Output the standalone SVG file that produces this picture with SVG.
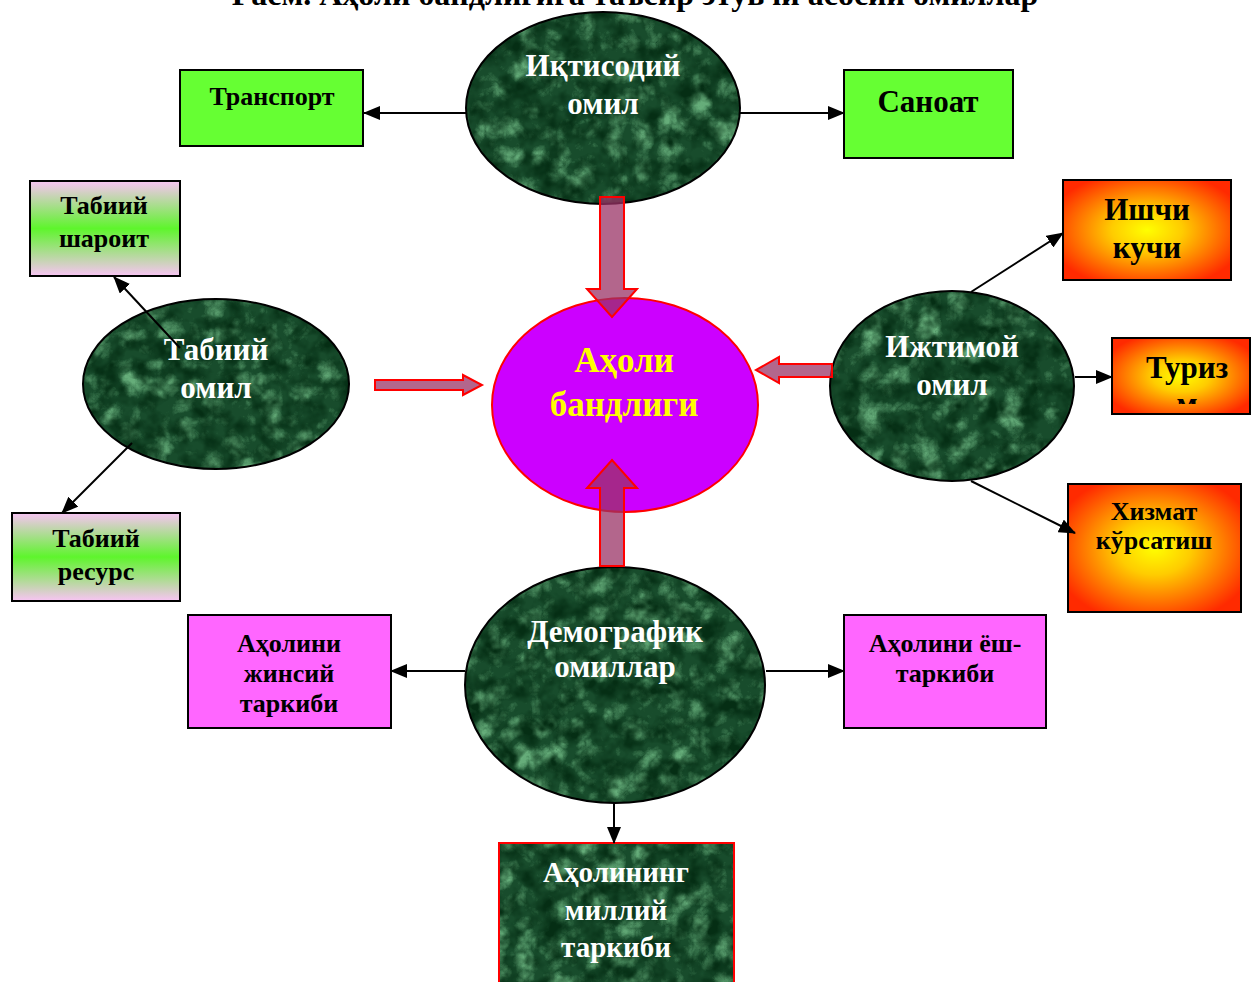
<svg xmlns="http://www.w3.org/2000/svg" width="1252" height="982" viewBox="0 0 1252 982">
<style>
  text { font-family: "Liberation Serif", "Times New Roman", serif; font-weight: bold; text-anchor: middle; }
  .title { font-size: 32px; fill: #000; }
  .ell-t { font-size: 31px; fill: #fff; }
  .box-t { font-size: 26px; fill: #000; }
  .big-t { font-size: 31px; fill: #000; }
  .ctr-t { font-size: 35px; fill: #ffff00; }
  .marble { fill: #184c2c; filter: url(#marble); }
  .edge { fill: none; stroke: #000; stroke-width: 2; }
  .box { stroke: #000; stroke-width: 2; }
  .gp { fill: url(#greenPink); }
  .org { fill: url(#orange); }
  .mag { fill: #ff66ff; }
  .lime { fill: #66ff33; }
  .conn { stroke: #000; stroke-width: 2; fill: none; marker-end: url(#ah); }
  .block { fill: #993366; fill-opacity: 0.75; stroke: #ff0000; stroke-width: 2; }
</style>
<defs>
  <marker id="ah" markerUnits="userSpaceOnUse" markerWidth="17" markerHeight="14" refX="16" refY="7" orient="auto">
    <path d="M0,0 L17,7 L0,14 z" fill="#000"/>
  </marker>
  <linearGradient id="greenPink" x1="0" y1="0" x2="0" y2="1">
    <stop offset="0" stop-color="#f8c4f4"/>
    <stop offset="0.5" stop-color="#5ef52c"/>
    <stop offset="1" stop-color="#f8c4f4"/>
  </linearGradient>
  <radialGradient id="orange" cx="0.5" cy="0.5" r="0.6">
    <stop offset="0" stop-color="#ffff00"/>
    <stop offset="0.35" stop-color="#ffcc00"/>
    <stop offset="1" stop-color="#ff2a00"/>
  </radialGradient>
  <filter id="marble" x="0" y="0" width="1" height="1" color-interpolation-filters="sRGB">
    <feTurbulence type="turbulence" baseFrequency="0.035" numOctaves="5" seed="4" result="n"/>
    <feColorMatrix in="n" type="matrix" values="0 0 0 0 0.40  0 0 0 0 0.68  0 0 0 0 0.48  2.2 0 0 0 -0.55" result="veins"/>
    <feComposite in="veins" in2="SourceGraphic" operator="in" result="vc"/>
    <feTurbulence type="fractalNoise" baseFrequency="0.05" numOctaves="3" seed="11" result="n2"/>
    <feColorMatrix in="n2" type="matrix" values="0 0 0 0 0.02  0 0 0 0 0.18  0 0 0 0 0.08  2.5 0 0 0 -0.95" result="dark"/>
    <feComposite in="dark" in2="SourceGraphic" operator="in" result="dc"/>
    <feMerge><feMergeNode in="SourceGraphic"/><feMergeNode in="vc"/><feMergeNode in="dc"/></feMerge>
  </filter>
  <clipPath id="turClip"><rect x="1112" y="338" width="140" height="66"/></clipPath>
</defs>

<rect x="0" y="0" width="1252" height="982" fill="#fff"/>

<text id="title" class="title" x="635" y="5">Расм. Аҳоли  бандлигига таъсир этувчи асосий омиллар</text>

<g id="iqtisodiy">
  <ellipse class="marble" cx="603" cy="108" rx="137" ry="96"/>
  <ellipse class="edge" cx="603" cy="108" rx="137" ry="96"/>
  <text class="ell-t" x="603" y="76">Иқтисодий</text>
  <text class="ell-t" x="603" y="114">омил</text>
</g>

<g id="transport">
  <rect class="box lime" x="180" y="70" width="183" height="76"/>
  <text class="box-t" x="272" y="105">Транспорт</text>
</g>

<g id="sanoat">
  <rect class="box lime" x="844" y="70" width="169" height="88"/>
  <text class="big-t" x="928" y="112">Саноат</text>
</g>

<g id="tabiiy-sharoit">
  <rect class="box gp" x="30" y="181" width="150" height="95"/>
  <text class="box-t" x="104" y="214">Табиий</text>
  <text class="box-t" x="104" y="247">шароит</text>
</g>

<g id="tabiiy-omil">
  <ellipse class="marble" cx="216" cy="384" rx="133" ry="85"/>
  <ellipse class="edge" cx="216" cy="384" rx="133" ry="85"/>
  <text class="ell-t" x="216" y="360">Табиий</text>
  <text class="ell-t" x="216" y="398">омил</text>
</g>

<g id="tabiiy-resurs">
  <rect class="box gp" x="12" y="513" width="168" height="88"/>
  <text class="box-t" x="96" y="547">Табиий</text>
  <text class="box-t" x="96" y="580">ресурс</text>
</g>

<g id="aholi-bandligi">
  <ellipse cx="625" cy="405" rx="133" ry="107" fill="#cc00ff" stroke="#ff0000" stroke-width="2"/>
  <text class="ctr-t" x="624" y="372">Аҳоли</text>
  <text class="ctr-t" x="624" y="416">бандлиги</text>
</g>

<g id="ijtimoiy">
  <ellipse class="marble" cx="952" cy="386" rx="122" ry="95"/>
  <ellipse class="edge" cx="952" cy="386" rx="122" ry="95"/>
  <text class="ell-t" x="952" y="357">Ижтимой</text>
  <text class="ell-t" x="952" y="395">омил</text>
</g>

<g id="ishchi-kuchi">
  <rect class="box org" x="1063" y="180" width="168" height="100"/>
  <text class="big-t" x="1147" y="220">Ишчи</text>
  <text class="big-t" x="1147" y="258">кучи</text>
</g>

<g id="turizm">
  <rect class="box org" x="1112" y="338" width="138" height="76"/>
  <g clip-path="url(#turClip)">
    <text class="big-t" x="1187" y="378">Туриз</text>
    <text class="big-t" x="1187" y="414">м</text>
  </g>
</g>

<g id="xizmat">
  <rect class="box org" x="1068" y="484" width="173" height="128"/>
  <text class="box-t" x="1154" y="520">Хизмат</text>
  <text class="box-t" x="1154" y="549">кўрсатиш</text>
</g>

<g id="demografik">
  <ellipse class="marble" cx="615" cy="685" rx="150" ry="118"/>
  <ellipse class="edge" cx="615" cy="685" rx="150" ry="118"/>
  <text class="ell-t" x="615" y="642">Демографик</text>
  <text class="ell-t" x="615" y="677">омиллар</text>
</g>

<g id="jinsiy">
  <rect class="box mag" x="188" y="615" width="203" height="113"/>
  <text class="box-t" x="289" y="652">Аҳолини</text>
  <text class="box-t" x="289" y="682">жинсий</text>
  <text class="box-t" x="289" y="712">таркиби</text>
</g>

<g id="yosh">
  <rect class="box mag" x="844" y="615" width="202" height="113"/>
  <text class="box-t" x="945" y="652">Аҳолини ёш-</text>
  <text class="box-t" x="945" y="682">таркиби</text>
</g>

<g id="milliy">
  <rect class="marble" x="499" y="843" width="235" height="145"/>
  <rect x="499" y="843" width="235" height="145" fill="none" stroke="#ff0000" stroke-width="2"/>
  <text class="ell-t" x="616" y="882" style="font-size:29px">Аҳолининг</text>
  <text class="ell-t" x="616" y="920" style="font-size:29px">миллий</text>
  <text class="ell-t" x="616" y="957" style="font-size:29px">таркиби</text>
</g>

<g id="connectors">
  <line class="conn" x1="466" y1="113" x2="364" y2="113"/>
  <line class="conn" x1="740" y1="113" x2="844" y2="113"/>
  <line class="conn" x1="180" y1="348" x2="114" y2="277"/>
  <line class="conn" x1="132" y1="443" x2="62" y2="513"/>
  <line class="conn" x1="971" y1="292" x2="1063" y2="233"/>
  <line class="conn" x1="1075" y1="377" x2="1112" y2="377"/>
  <line class="conn" x1="971" y1="481" x2="1075" y2="533"/>
  <line class="conn" x1="465" y1="671" x2="391" y2="671"/>
  <line class="conn" x1="766" y1="671" x2="844" y2="671"/>
  <line class="conn" x1="614" y1="803" x2="614" y2="843"/>
  <polygon class="block" points="600,197 624,197 624,289 637,289 612,317 587,289 600,289"/>
  <polygon class="block" points="600,566 624,566 624,488 637,488 612,460 587,488 600,488"/>
  <polygon class="block" points="832,364 832,377 779,377 779,383 756,370 779,357 779,364"/>
  <polygon class="block" points="375,380 463,380 463,375 482,385 463,395 463,390 375,390"/>
</g>
</svg>
